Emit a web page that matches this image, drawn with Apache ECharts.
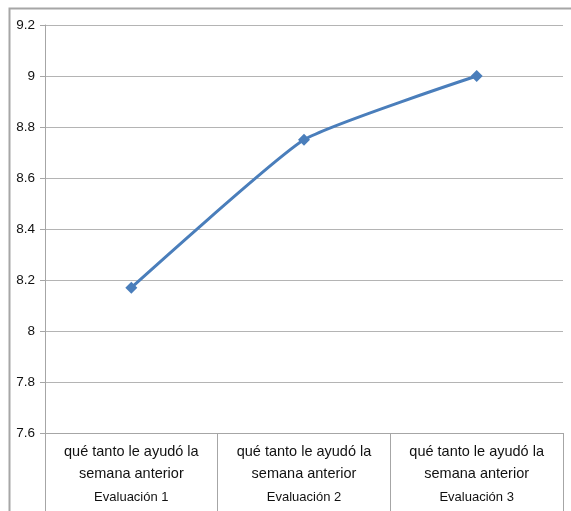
<!DOCTYPE html>
<html lang="es">
<head>
    <meta charset="UTF-8">
    <title>Evaluación</title>
    <style>
        html, body { margin: 0; padding: 0; background: #fff; }
    </style>
</head>
<body>
    <div id="main" style="width: 571px;height:511px;"></div>
    <script src="https://cdn.jsdelivr.net/npm/echarts@6/dist/echarts.min.js"></script>
    <script>
    // datos
    var categorias = ['Evaluación 1', 'Evaluación 2', 'Evaluación 3'];
    var pregunta = ['qué tanto le ayudó la', 'semana anterior'];
    var valores = [8.17, 8.75, 9.0];

    var myChart = echarts.init(document.getElementById('main'));
    var fuente = '"Liberation Sans Narrow", "Liberation Sans", Arial, sans-serif';

    var option = {
        backgroundColor: '#fff',
        animation: false,
        graphic: [{
            type: 'rect',
            left: 7,
            top: 6,
            shape: { width: 564, height: 520 },
            style: { fill: 'none', stroke: '#a6a6a6', lineWidth: 2 }
        }],
        grid: {
            left: 45,
            right: 8,
            top: 25,
            bottom: 78
        },
        xAxis: {
            type: 'category',
            data: categorias,
            boundaryGap: true,
            axisLine: { lineStyle: { color: '#a6a6a6', width: 1 } },
            axisTick: { show: true, length: 80, lineStyle: { color: '#a6a6a6' } },
            axisLabel: {
                margin: 8,
                fontFamily: fuente,
                color: '#111',
                formatter: function (v) {
                    return '{q|' + pregunta[0] + '}\n{q|' + pregunta[1] + '}\n{e|' + v + '}';
                },
                rich: {
                    q: { fontSize: 14.5, fontFamily: fuente, lineHeight: 22, color: '#111' },
                    e: { fontSize: 13, fontFamily: fuente, lineHeight: 24, color: '#111' }
                }
            }
        },
        yAxis: {
            type: 'value',
            min: 7.6,
            max: 9.2,
            interval: 0.2,
            axisLine: { show: true, lineStyle: { color: '#a6a6a6' } },
            axisTick: { show: true, length: 5, lineStyle: { color: '#a6a6a6' } },
            splitLine: { lineStyle: { color: '#b4b4b4', width: 1 } },
            axisLabel: {
                margin: 10,
                fontSize: 13.5,
                fontFamily: fuente,
                color: '#111',
                formatter: function (v) { return String(Math.round(v * 10) / 10); }
            }
        },
        series: [{
            type: 'line',
            data: valores,
            smooth: 0.15,
            symbol: 'diamond',
            symbolSize: 12,
            lineStyle: { color: '#4a7ebb', width: 3 },
            itemStyle: { color: '#4a7ebb' }
        }]
    };
    myChart.setOption(option);
    </script>
</body>
</html>
